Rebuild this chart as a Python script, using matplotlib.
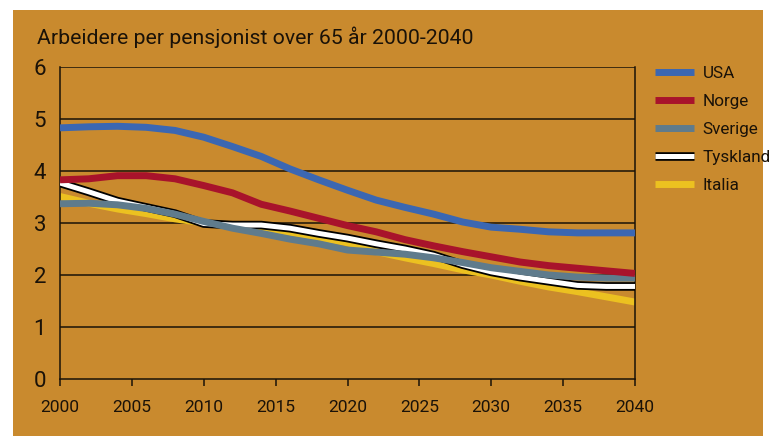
import numpy as np
import matplotlib.pyplot as plt
import matplotlib.patheffects as pe
from matplotlib.patches import Rectangle
from matplotlib import font_manager

years = [2000, 2002, 2004, 2006, 2008, 2010, 2012, 2014, 2016, 2018, 2020,
         2022, 2024, 2026, 2028, 2030, 2032, 2034, 2036, 2038, 2040]

usa = [4.83, 4.85, 4.86, 4.84, 4.78, 4.65, 4.47, 4.28, 4.04, 3.83, 3.63,
       3.44, 3.30, 3.17, 3.02, 2.92, 2.88, 2.83, 2.81, 2.81, 2.81]
norge = [3.83, 3.85, 3.91, 3.91, 3.85, 3.72, 3.58, 3.36, 3.23, 3.09, 2.95,
         2.83, 2.68, 2.56, 2.45, 2.35, 2.25, 2.18, 2.13, 2.08, 2.03]
sverige = [3.37, 3.38, 3.35, 3.28, 3.17, 3.03, 2.90, 2.80, 2.69, 2.60, 2.48,
           2.44, 2.40, 2.33, 2.24, 2.14, 2.07, 2.00, 1.96, 1.94, 1.94]
tyskland = [3.77, 3.60, 3.42, 3.30, 3.18, 2.99, 2.96, 2.96, 2.90, 2.80, 2.71,
            2.60, 2.50, 2.38, 2.20, 2.06, 1.96, 1.88, 1.80, 1.78, 1.78]
italia = [3.51, 3.38, 3.27, 3.18, 3.08, 3.00, 2.95, 2.90, 2.82, 2.72, 2.62,
          2.45, 2.33, 2.22, 2.10, 2.00, 1.88, 1.77, 1.68, 1.58, 1.48]

xticks = list(range(2000, 2041, 5))
yticks = [0, 1, 2, 3, 4, 5, 6]

# a narrow face if there is one, the reference font is quite condensed
names = set(f.name for f in font_manager.fontManager.ttflist)
if 'Liberation Sans Narrow' in names:
    fam = 'Liberation Sans Narrow'
    k = 1.1
else:
    fam = 'Roboto'
    k = 1.0
plt.rcParams['font.family'] = [fam, 'DejaVu Sans']

W, H = 778, 444
fig = plt.figure(figsize=(W / 100, H / 100), dpi=100)
fig.patch.set_facecolor('white')

# orange panel
fig.patches.append(Rectangle((13 / W, 1 - 436 / H), 750 / W, 426 / H,
                             transform=fig.transFigure, facecolor='#C98A2E',
                             edgecolor='none', zorder=-10))

ax = fig.add_axes([60 / W, 1 - 379 / H, 575 / W, 312 / H])
ax.set_facecolor('none')

lw = 5
ax.plot(years, italia, color='#ECC120', lw=lw, label='Italia', zorder=2,
        solid_capstyle='butt')
ax.plot(years, tyskland, color='white', lw=3.6, label='Tyskland', zorder=3,
        solid_capstyle='butt',
        path_effects=[pe.Stroke(linewidth=6.2, foreground='black'), pe.Normal()])
ax.plot(years, sverige, color='#5F7B8C', lw=lw, label='Sverige', zorder=4,
        solid_capstyle='butt')
ax.plot(years, norge, color='#A8132B', lw=lw, label='Norge', zorder=5,
        solid_capstyle='butt')
ax.plot(years, usa, color='#3B67B2', lw=lw, label='USA', zorder=6,
        solid_capstyle='butt')

ax.set_xlim(2000, 2040)
ax.set_ylim(0, 6)
ax.set_xticks(xticks)
ax.set_yticks(yticks)
for y in yticks[1:]:
    ax.axhline(y, color='#1a1208', lw=1.1, zorder=1)

for s in ['left', 'right', 'bottom']:
    ax.spines[s].set_color('#1a1208')
    ax.spines[s].set_linewidth(1.1)
ax.spines['top'].set_visible(False)

ax.tick_params(axis='x', direction='out', length=5, width=1.1,
               colors='#1a1208', labelsize=12.5 * k, pad=10)
ax.tick_params(axis='y', length=0, labelsize=16 * k, pad=10, colors='#1a1208')

handles, labels = ax.get_legend_handles_labels()
order = ['USA', 'Norge', 'Sverige', 'Tyskland', 'Italia']
hl = dict(zip(labels, handles))
leg = fig.legend([hl[k2] for k2 in order], order, loc='upper left',
                 bbox_to_anchor=(648 / W, 1 - 59 / H), frameon=False,
                 fontsize=12.3 * k, handlelength=2.3, handletextpad=0.5,
                 labelspacing=0.76, borderaxespad=0)
for t in leg.get_texts():
    t.set_color('#1a1208')

fig.text(37 / W, 1 - 37 / H, 'Arbeidere per pensjonist over 65 år 2000-2040',
         fontsize=15.3 * k, color='#1a1208', va='center', ha='left')

fig.savefig('out.png', dpi=100)
